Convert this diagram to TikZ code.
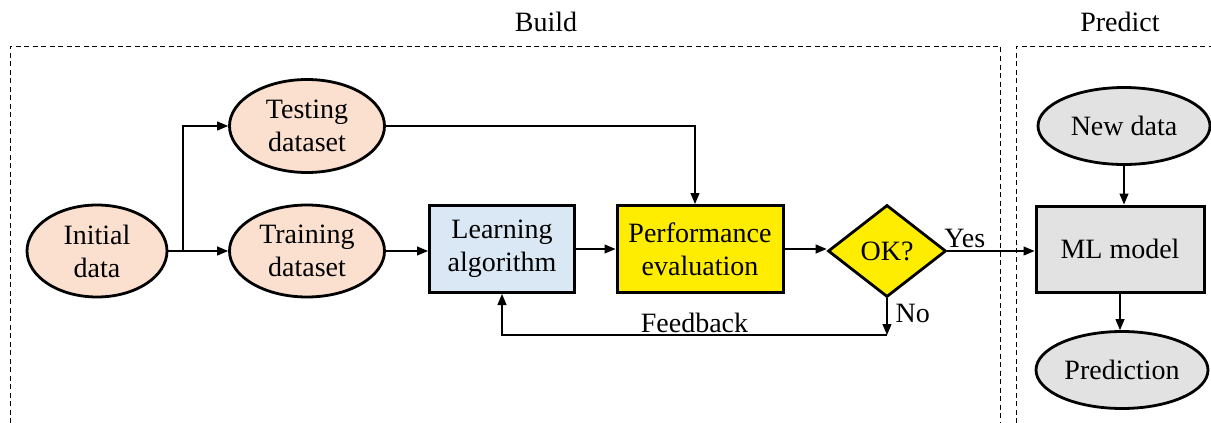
\documentclass[tikz,border=0pt]{standalone}
\usepackage{fontspec}
\setmainfont{Liberation Serif}
\usetikzlibrary{arrows.meta,shapes.geometric}
\definecolor{peach}{HTML}{FBE0CF}
\definecolor{lblue}{HTML}{DAE7F5}
\definecolor{yel}{HTML}{FFED00}
\definecolor{lgray}{HTML}{E2E2E2}
\begin{document}
\begin{tikzpicture}[x=1pt,y=-1pt,
  txt/.style={font=\fontsize{28}{33}\selectfont, align=center, inner sep=0pt},
  ell/.style={txt, ellipse, draw, line width=2.8pt},
  box/.style={txt, rectangle, draw, line width=3pt},
  conn/.style={line width=1.2pt, -{Triangle[length=11pt,width=9pt]}},
  frame/.style={line width=1pt, dash pattern=on 5pt off 3.5pt}]
\useasboundingbox (0,0) rectangle (1211,423);
% frames
\draw[frame] (10,423) -- (10,46) -- (1000,46) -- (1000,423);
\draw[frame] (1016,423) -- (1016,46) -- (1215,46);
\node[txt] (build) at (546,22) {Build};
\node[txt] (predict) at (1120,22) {Predict};
% nodes
\node[ell, fill=peach, minimum width=140pt, minimum height=92pt] (init) at (97,251) {Initial\\data};
\node[ell, fill=peach, minimum width=155pt, minimum height=92pt] (train) at (307,251) {Training\\dataset};
\node[ell, fill=peach, minimum width=155pt, minimum height=93pt] (test) at (307,126) {Testing\\dataset};
\node[box, fill=lblue, minimum width=145pt, minimum height=87pt] (learn) at (502,249) {Learning\\algorithm};
\node[box, fill=yel, minimum width=166pt, minimum height=87pt] (perf) at (700,249) {Performance\\evaluation};
\node[txt, diamond, draw, line width=2.8pt, fill=yel, minimum width=118pt, minimum height=92pt] (ok) at (887,251) {OK?};
\node[box, fill=lgray, minimum width=168pt, minimum height=86pt] (ml) at (1120,249) {ML model};
\node[ell, fill=lgray, minimum width=172pt, minimum height=77pt] (new) at (1124,126) {New data};
\node[ell, fill=lgray, minimum width=172pt, minimum height=77pt] (pred) at (1122,370) {Prediction};
% connectors
\coordinate (br) at (183,251);
\coordinate (fb) at (887,335);
\draw[conn] (init.east) -- (train.west);
\draw[conn] (br) |- (test.west);
\draw[conn] (train.east) -- (train.east -| learn.west);
\draw[conn] (learn.east) -- (perf.west);
\draw[conn] (test.east) -| (695,0 |- perf.north);
\draw[conn] (perf.east) -- (perf.east -| ok.west);
\draw[conn] (ok.east) -- (ok.east -| ml.west) node[txt, pos=0.2, above=3pt] (yes) {Yes};
\draw[conn] (ok.south) -- (fb) node[txt, pos=0.4, right=8pt] (no) {No};
\draw[conn] (fb) -| (learn.south) node[txt, pos=0.25, above=2pt] (feedback) {Feedback};
\draw[conn] (new.south) -- (new.south |- ml.north);
\draw[conn] (ml.south) -- (ml.south |- pred.north);
\end{tikzpicture}
\end{document}
